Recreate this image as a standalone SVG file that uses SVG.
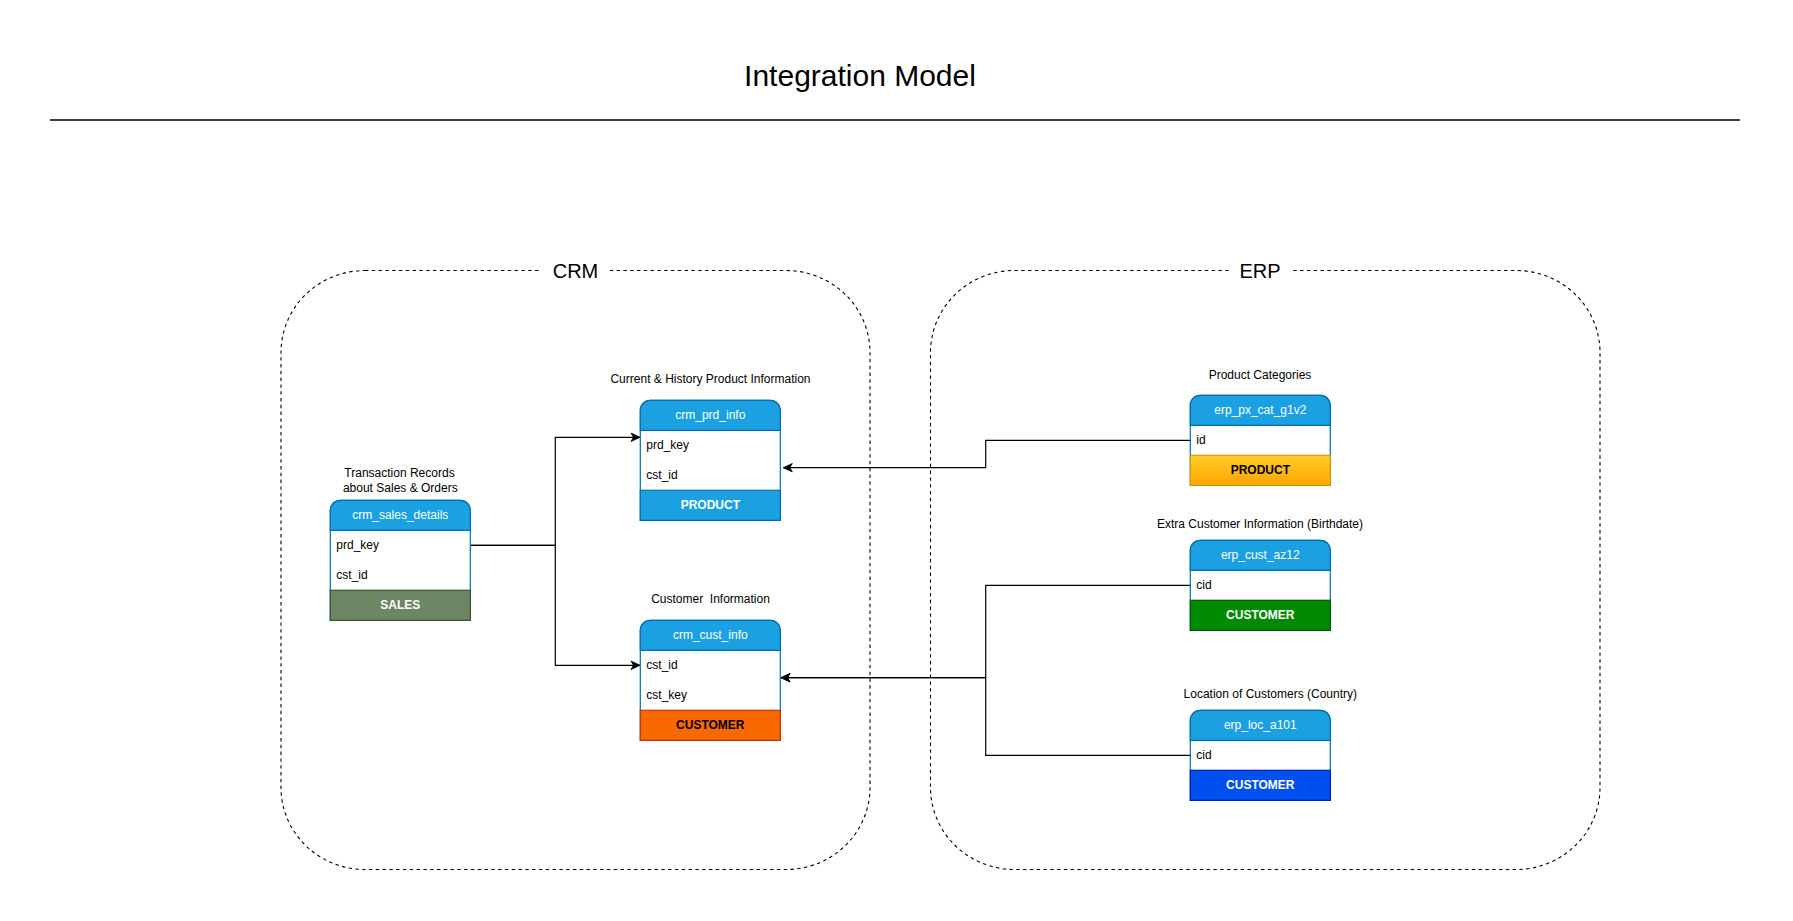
<svg xmlns="http://www.w3.org/2000/svg" width="1793" height="921" viewBox="0 0 1793 921">
<defs>
<style>
text{font-family:"Liberation Sans",Arial,Helvetica,sans-serif;fill:#000}
.lbl{font-size:12px;text-anchor:middle;white-space:pre}
.hdr{font-size:12px;text-anchor:middle;fill:#fff}
.row{font-size:12px}
.ftr{font-size:12px;font-weight:bold;text-anchor:middle}
.w{fill:#fff}
.outline{fill:#fff;stroke:#006EAF;stroke-width:1.2}
.head{fill:#1BA1E2;stroke:#006EAF;stroke-width:1.2}
.cont{fill:none;stroke:#000;stroke-width:1.1;stroke-dasharray:3.4 3.4}
.conn{fill:none;stroke:#000;stroke-width:1.2}
.ctitle{font-size:20px;text-anchor:middle}
</style>
<linearGradient id="gold" x1="0" y1="0" x2="0" y2="1">
<stop offset="0" stop-color="#FFCD28"/>
<stop offset="1" stop-color="#FFA500"/>
</linearGradient>
<marker id="arr" markerUnits="userSpaceOnUse" markerWidth="12" markerHeight="12" viewBox="-10 -6 12 12" refX="0" refY="0" orient="auto">
<path d="M0,0 L-9,-4.2 L-6.5,0 L-9,4.2 Z" fill="#000" stroke="#000" stroke-width="0.8"/>
</marker>
</defs>
<rect x="0" y="0" width="1793" height="921" fill="#fff"/>

<g id="title">
<text x="860" y="86" style="font-size:30px;text-anchor:middle">Integration Model</text>
<line x1="50" y1="120" x2="1740" y2="120" stroke="#000" stroke-width="1.3"/>
</g>

<g id="crm-container">
<rect class="cont" x="281" y="270.5" width="589" height="599" rx="84" ry="82"/>
<rect x="541" y="258" width="69" height="26" fill="#fff"/>
<text class="ctitle" x="575.5" y="278">CRM</text>
</g>
<g id="erp-container">
<rect class="cont" x="930.5" y="270.5" width="669.5" height="599" rx="84" ry="82"/>
<rect x="1230" y="258" width="60" height="26" fill="#fff"/>
<text class="ctitle" x="1260" y="278">ERP</text>
</g>

<g id="connectors">
<path class="conn" d="M470,545.3 H555.3 V437.3 H640" marker-end="url(#arr)"/>
<path class="conn" d="M470,545.3 H555.3 V665.3 H640" marker-end="url(#arr)"/>
<path class="conn" d="M1190,440.3 H985.7 V467.7 H783.3" marker-end="url(#arr)"/>
<path class="conn" d="M1190,585.3 H985.7 V677.7 H781" marker-end="url(#arr)"/>
<path class="conn" d="M1190,755.3 H985.7 V677.7 H781" marker-end="url(#arr)"/>
</g>

<g id="label-sales">
<text class="lbl" x="399.5" y="476.7">Transaction Records</text>
<text class="lbl" x="400.3" y="491.7">about Sales &amp; Orders</text>
</g>
<g id="crm_sales_details" transform="translate(330.3,500.3)">
<path class="outline" d="M0,120 V10 A10,10 0 0 1 10,0 H130 A10,10 0 0 1 140,10 V120 Z"/>
<path class="head" d="M0,30 V10 A10,10 0 0 1 10,0 H130 A10,10 0 0 1 140,10 V30 Z"/>
<text class="hdr" x="70" y="18.5">crm_sales_details</text>
<text class="row" x="6" y="48.5">prd_key</text>
<text class="row" x="6" y="78.5">cst_id</text>
<rect x="0" y="90" width="140" height="30" fill="#6D8764" stroke="#3A5431" stroke-width="1.2"/>
<text class="ftr w" x="70" y="109">SALES</text>
</g>

<g id="label-prd">
<text class="lbl" x="710.5" y="382.7">Current &amp; History Product Information</text>
</g>
<g id="crm_prd_info" transform="translate(640.3,400.3)">
<path class="outline" d="M0,120 V10 A10,10 0 0 1 10,0 H130 A10,10 0 0 1 140,10 V120 Z"/>
<path class="head" d="M0,30 V10 A10,10 0 0 1 10,0 H130 A10,10 0 0 1 140,10 V30 Z"/>
<text class="hdr" x="70" y="18.5">crm_prd_info</text>
<text class="row" x="6" y="48.5">prd_key</text>
<text class="row" x="6" y="78.5">cst_id</text>
<rect x="0" y="90" width="140" height="30" fill="#1BA1E2" stroke="#006EAF" stroke-width="1.2"/>
<text class="ftr w" x="70" y="109">PRODUCT</text>
</g>

<g id="label-cust">
<text class="lbl" x="710.5" y="602.7">Customer  Information</text>
</g>
<g id="crm_cust_info" transform="translate(640.3,620.3)">
<path class="outline" d="M0,120 V10 A10,10 0 0 1 10,0 H130 A10,10 0 0 1 140,10 V120 Z"/>
<path class="head" d="M0,30 V10 A10,10 0 0 1 10,0 H130 A10,10 0 0 1 140,10 V30 Z"/>
<text class="hdr" x="70" y="18.5">crm_cust_info</text>
<text class="row" x="6" y="48.5">cst_id</text>
<text class="row" x="6" y="78.5">cst_key</text>
<rect x="0" y="90" width="140" height="30" fill="#FA6800" stroke="#C73500" stroke-width="1.2"/>
<text class="ftr" x="70" y="109">CUSTOMER</text>
</g>

<g id="label-pxcat">
<text class="lbl" x="1260" y="379.3">Product Categories</text>
</g>
<g id="erp_px_cat_g1v2" transform="translate(1190.3,395.3)">
<path class="outline" d="M0,90 V10 A10,10 0 0 1 10,0 H130 A10,10 0 0 1 140,10 V90 Z"/>
<path class="head" d="M0,30 V10 A10,10 0 0 1 10,0 H130 A10,10 0 0 1 140,10 V30 Z"/>
<text class="hdr" x="70" y="18.5">erp_px_cat_g1v2</text>
<text class="row" x="6" y="48.5">id</text>
<rect x="0" y="60" width="140" height="30" fill="url(#gold)" stroke="#D79B00" stroke-width="1.2"/>
<text class="ftr" x="70" y="79">PRODUCT</text>
</g>

<g id="label-az12">
<text class="lbl" x="1260" y="528.3">Extra Customer Information (Birthdate)</text>
</g>
<g id="erp_cust_az12" transform="translate(1190.3,540.3)">
<path class="outline" d="M0,90 V10 A10,10 0 0 1 10,0 H130 A10,10 0 0 1 140,10 V90 Z"/>
<path class="head" d="M0,30 V10 A10,10 0 0 1 10,0 H130 A10,10 0 0 1 140,10 V30 Z"/>
<text class="hdr" x="70" y="18.5">erp_cust_az12</text>
<text class="row" x="6" y="48.5">cid</text>
<rect x="0" y="60" width="140" height="30" fill="#008A00" stroke="#005700" stroke-width="1.2"/>
<text class="ftr w" x="70" y="79">CUSTOMER</text>
</g>

<g id="label-loc">
<text class="lbl" x="1270.3" y="698">Location of Customers (Country)</text>
</g>
<g id="erp_loc_a101" transform="translate(1190.3,710.3)">
<path class="outline" d="M0,90 V10 A10,10 0 0 1 10,0 H130 A10,10 0 0 1 140,10 V90 Z"/>
<path class="head" d="M0,30 V10 A10,10 0 0 1 10,0 H130 A10,10 0 0 1 140,10 V30 Z"/>
<text class="hdr" x="70" y="18.5">erp_loc_a101</text>
<text class="row" x="6" y="48.5">cid</text>
<rect x="0" y="60" width="140" height="30" fill="#0050EF" stroke="#001DBC" stroke-width="1.2"/>
<text class="ftr w" x="70" y="79">CUSTOMER</text>
</g>
</svg>
